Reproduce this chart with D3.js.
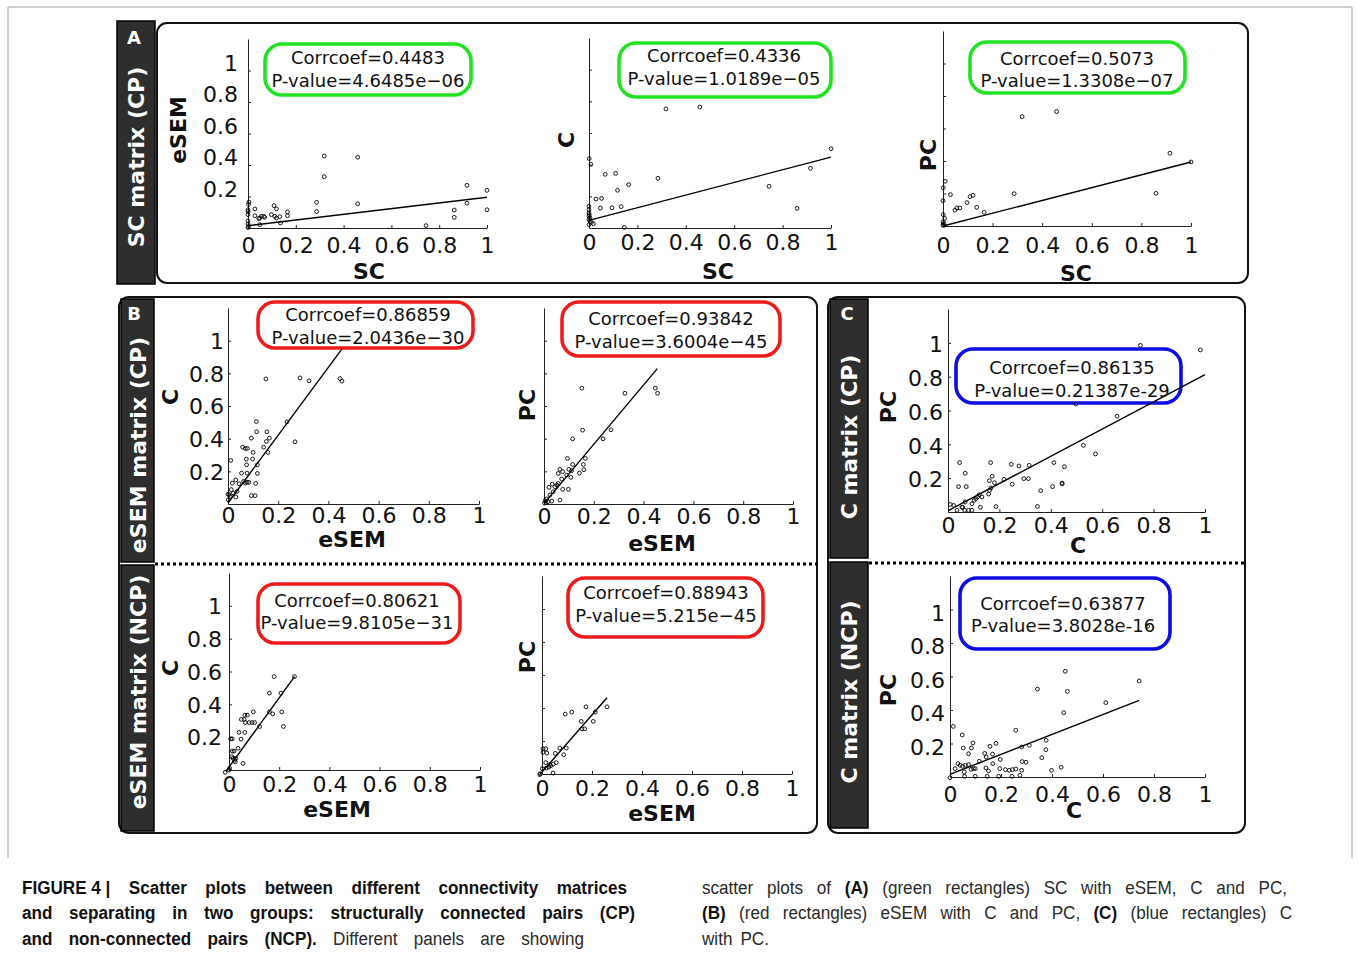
<!DOCTYPE html>
<html><head><meta charset="utf-8">
<script src="https://cdn.jsdelivr.net/npm/d3@7"></script>
<style>body{margin:0;background:#fff} svg{display:block}</style>
</head><body>
<svg id="fig" width="1358" height="953"></svg>
<script>
// ---------------- DATA ----------------
const axisTicks = [0, 0.2, 0.4, 0.6, 0.8, 1];
const tickLabels = ["0", "0.2", "0.4", "0.6", "0.8", "1"];
const yTicks = [0.2, 0.4, 0.6, 0.8, 1];

const xNames = ["SC", "SC", "SC", "eSEM", "eSEM", "eSEM", "eSEM", "C", "C"];
const yNames = ["eSEM", "C", "PC", "C", "PC", "C", "PC", "PC", "PC"];

const statsCorr = ["Corrcoef=0.4483", "Corrcoef=0.4336", "Corrcoef=0.5073", "Corrcoef=0.86859", "Corrcoef=0.93842",
  "Corrcoef=0.80621", "Corrcoef=0.88943", "Corrcoef=0.86135", "Corrcoef=0.63877"];
const statsP = ["P-value=4.6485e\u221206", "P-value=1.0189e\u221205", "P-value=1.3308e\u221207", "P-value=2.0436e\u221230",
  "P-value=3.6004e\u221245", "P-value=9.8105e\u221231", "P-value=5.215e\u221245", "P-value=0.21387e-29", "P-value=3.8028e-16"];

const panelTitles = ["SC matrix (CP)", "eSEM matrix (CP)", "eSEM matrix (NCP)", "C matrix (CP)", "C matrix (NCP)"];
const panelLetters = ["A", "B", "C"];

// A: SC vs eSEM / C / PC (CP)
const ptsA1 = [[0.319,0.457],[0.319,0.326],[0.459,0.449],[0.459,0.154],[0.287,0.163],[0.287,0.104],
  [0.916,0.271],[0.916,0.157],[1.0,0.239],[1.0,0.116],[0.863,0.114],[0.863,0.068],[0.745,0.015],
  [0.004,0.165],[0.002,0.150],[0,0.116],[0,0.105],[0,0.085],[0,0.045],[0,0.025],[0.002,0.01],[0,0.003],
  [0.029,0.121],[0.029,0.078],[0.049,0.063],[0.056,0.074],[0.066,0.074],[0.070,0.068],
  [0.109,0.142],[0.119,0.121],[0.098,0.085],[0.112,0.074],[0.119,0.063],[0.133,0.072],[0.136,0.032],
  [0.165,0.102],[0.165,0.078],[0.049,0.021],[0.045,0.06]];
const ptsA2 = [[0.318,0.752],[0.458,0.764],[1.0,0.501],[0.915,0.377],[0.744,0.263],[0.860,0.124],
  [0.001,0.438],[0.008,0.402],[0.067,0.339],[0.110,0.345],[0.285,0.314],[0.164,0.274],[0.118,0.238],
  [0.029,0.183],[0.052,0.187],[0.047,0.126],[0.095,0.128],[0.133,0.135],[0.146,0.004],[0.018,0.027],
  [0,0.137],[0,0.116],[0,0.095],[0.001,0.084],[0,0.074],[0.004,0.063],[0,0.053],[0.004,0.042],[0,0.021],[0.01,0.035]];
const ptsA3 = [[0.319,0.673],[0.458,0.704],[0.915,0.448],[1.0,0.394],[0.859,0.201],[0.287,0.199],
  [0.009,0.275],[0.001,0.236],[0,0.156],[0.030,0.193],[0.109,0.181],[0.121,0.189],[0.097,0.144],
  [0.136,0.115],[0.166,0.084],[0.048,0.097],[0.056,0.111],[0.068,0.111],[0.001,0.070],[0.007,0.047],
  [0,0.025],[0.003,0.015],[0,0.008],[0.002,0.003]];
// B: eSEM vs C / PC (CP, NCP)
const ptsB1 = [[0.151,0.766],[0.287,0.772],[0.323,0.754],[0.446,0.768],[0.454,0.752],
  [0.113,0.505],[0.235,0.503],[0.267,0.381],[0.114,0.442],[0.155,0.442],[0.165,0.403],[0.153,0.383],
  [0.142,0.348],[0.159,0.316],[0.093,0.403],[0.058,0.348],[0.069,0.340],[0.077,0.340],[0.011,0.267],
  [0.073,0.275],[0.098,0.275],[0.100,0.316],[0.074,0.240],[0.117,0.240],[0.117,0.187],[0.054,0.189],
  [0.076,0.189],[0.110,0.126],[0.062,0.138],[0.076,0.134],[0.083,0.132],[0.069,0.128],[0.031,0.147],
  [0.017,0.128],[0.044,0.124],[0.093,0.051],[0.108,0.051],[0.031,0.043],[0.036,0.077],[0.020,0.067],
  [0.004,0.057],[0.009,0.047],[0.001,0.026],[0.013,0.088],[0.0,0.06]];
const ptsB2 = [[0.152,0.709],[0.325,0.678],[0.447,0.709],[0.456,0.678],[0.155,0.452],[0.269,0.454],
  [0.115,0.399],[0.237,0.399],[0.094,0.279],[0.166,0.279],[0.115,0.242],[0.158,0.242],[0.160,0.210],
  [0.100,0.212],[0.111,0.204],[0.142,0.189],[0.108,0.163],[0.064,0.212],[0.075,0.198],[0.057,0.187],
  [0.091,0.177],[0.071,0.153],[0.098,0.090],[0.075,0.090],[0.020,0.102],[0.033,0.122],[0.064,0.024],
  [0.044,0.106],[0.051,0.116],[0.057,0.126],[0.024,0.055],[0.037,0.075],[0.011,0.031],[0.004,0.020],
  [0.017,0.014],[0.031,0.018],[0.008,0.010],[0.002,0.005]];
const ptsB3 = [[0.261,0.569],[0.180,0.569],[0.161,0.468],[0.207,0.468],[0.210,0.354],[0.174,0.342],[0.161,0.354],
  [0.217,0.265],[0.122,0.265],[0.097,0.354],[0.063,0.334],[0.073,0.334],[0.049,0.308],[0.060,0.308],
  [0.065,0.289],[0.080,0.289],[0.092,0.289],[0.102,0.289],[0.040,0.229],[0.063,0.229],[0.007,0.190],
  [0.013,0.190],[0.048,0.188],[0.036,0.132],[0.013,0.115],[0.020,0.115],[0.011,0.081],[0.016,0.071],
  [0.027,0.071],[0.025,0.05],[0.023,0.06],[0.056,0.040],[0.003,0.01],[0,0],[-0.015,-0.014]];
const ptsB4 = [[0.26,0.407],[0.176,0.407],[0.119,0.375],[0.093,0.363],[0.213,0.375],[0.205,0.319],[0.157,0.319],
  [0.171,0.274],[0.16,0.274],[0.097,0.157],[0.071,0.157],[0.087,0.117],[0.053,0.125],[0.004,0.153],
  [0.015,0.153],[0.019,0.127],[0.004,0.131],[0.015,0.069],[0.057,0.069],[0.031,0.058],[0.027,0.042],
  [0.017,0.036],[0.001,0.032],[0.044,0.006],[-0.007,0.002],[-0.009,-0.004],[0.035,0.05],[0.045,0.06]];
// C: C vs PC (CP, NCP)
const ptsC1 = [[0.749,0.985],[0.982,0.958],[0.497,0.638],[0.658,0.566],[0.527,0.394],[0.574,0.343],
  [0.045,0.292],[0.166,0.292],[0.067,0.229],[0.041,0.150],[0.071,0.150],[0.172,0.211],[0.161,0.185],
  [0.181,0.173],[0.218,0.193],[0.246,0.282],[0.276,0.272],[0.316,0.276],[0.295,0.197],[0.313,0.197],
  [0.250,0.164],[0.412,0.292],[0.453,0.268],[0.407,0.150],[0.444,0.171],[0.444,0.166],[0.361,0.126],
  [0.348,0.033],[0.187,0.032],[0.167,0.142],[0.162,0.128],[0.158,0.106],[0.122,0.102],[0.132,0.089],
  [0.115,0.089],[0.109,0.079],[0.102,0.069],[0.093,0.049],[0.067,0.059],[0.057,0.028],[0.065,0.010],
  [0.080,0.010],[0.093,0.010],[0.126,0.028],[0.009,0.045],[0.022,0.039],[0.035,0.010],[0.054,0.028]];
const ptsC2 = [[0.775,0.900],[0.452,0.631],[0.343,0.525],[0.460,0.511],[0.742,0.573],[0.611,0.444],[0.446,0.384],
  [0.258,0.279],[0.377,0.219],[0.376,0.163],[0.360,0.115],[0.311,0.189],[0.281,0.179],[0.283,0.092],
  [0.298,0.088],[0.281,0.040],[0.274,0.010],[0.398,0.040],[0.436,0.058],[0.180,0.201],[0.157,0.183],
  [0.167,0.137],[0.197,0.105],[0.168,0.080],[0.136,0.141],[0.142,0.119],[0.141,0.054],[0.151,0.036],
  [0.146,0.004],[0.191,0.004],[0.195,0.050],[0.217,0.044],[0.232,0.040],[0.245,0.044],[0.258,0.048],
  [0.243,0.004],[0.013,0.302],[0.048,0.251],[0.052,0.173],[0.090,0.203],[0.084,0.173],[0.073,0.139],
  [0.115,0.094],[0.099,0.050],[0.031,0.080],[0.040,0.070],[0.049,0.064],[0.060,0.070],[0.073,0.074],
  [0.083,0.046],[0.092,0.050],[0.056,0.030],[0.057,0.004],[0.099,0.004],[0,-0.004],[0.02,0.05]];

// regression lines: [xStart, yStart, xEnd, yEnd]
const fitA1 = [0, 0.015, 1, 0.195];
const fitA2 = [0, 0.048, 1, 0.448];
const fitA3 = [0, 0, 1, 0.394];
const fitB1 = [0, 0.006, 0.455, 0.951];
const fitB2 = [0.004, 0.010, 0.455, 0.829];
const fitB3 = [-0.013, -0.01, 0.261, 0.569];
const fitB4 = [-0.009, -0.004, 0.26, 0.462];
const fitC1 = [0.003, 0.010, 1.0, 0.812];
const fitC2 = [0, 0.016, 0.742, 0.458];

const allPts = [ptsA1, ptsA2, ptsA3, ptsB1, ptsB2, ptsB3, ptsB4, ptsC1, ptsC2];
const allFits = [fitA1, fitA2, fitA3, fitB1, fitB2, fitB3, fitB4, fitC1, fitC2];

const captionLeft = [
  [{t:"FIGURE\u00a04\u00a0|", b:1}, {t:"Scatter plots between different connectivity matrices", b:1}],
  [{t:"and separating in two groups: structurally connected pairs (CP)", b:1}],
  [{t:"and non-connected pairs (NCP).", b:1}, {t:"Different panels are showing", b:0}]
];
const captionRight = [
  [{t:"scatter plots of", b:0}, {t:"(A)", b:1}, {t:"(green rectangles) SC with eSEM, C and PC,", b:0}],
  [{t:"(B)", b:1}, {t:"(red rectangles) eSEM with C and PC,", b:0}, {t:"(C)", b:1}, {t:"(blue rectangles) C", b:0}],
  [{t:"with PC.", b:0}]
];

// ---------------- LAYOUT ----------------
const GREEN = "#22e322", RED = "#ee1b1b", BLUE = "#0c0ce4";
const layout = [
  {x0:248,x1:487,yb:228,yt:39, yl:true, ylx:-10, yldy:-8, xldy:17, xt:[369,271], ytl:[178,130], box:[265,44,206,51], tc:[368,57,80], col:GREEN},
  {x0:589,x1:831,yb:228,yt:38, yl:false, xldy:14, xt:[718,271], ytl:[566,140], box:[619,43,212,54], tc:[724,55,78], col:GREEN},
  {x0:943,x1:1191,yb:226,yt:31, yl:false, xldy:19, xt:[1076,273], ytl:[928,155], box:[970,42,215,51], tc:[1077,58,80], col:GREEN},
  {x0:228,x1:479,yb:504,yt:308, yl:true, ylx:-4, yldy:0, xldy:11, xt:[352,539], ytl:[170,397], box:[258,302,215,46], tc:[368,314,337], col:RED},
  {x0:544,x1:793,yb:504,yt:308, yl:false, xldy:12, xt:[662,543], ytl:[527,405], box:[562,302,218,54], tc:[671,318,341], col:RED},
  {x0:229,x1:480,yb:770,yt:573, yl:true, ylx:-7, yldy:0, xldy:14, xt:[337,809], ytl:[170,668], box:[258,584,202,59], tc:[357,600,622], col:RED},
  {x0:542,x1:792,yb:774,yt:576, yl:false, xldy:14, xt:[662,813], ytl:[527,657], box:[568,578,195,59], tc:[666,592,615], col:RED},
  {x0:948,x1:1205,yb:512,yt:309, yl:true, ylx:-5, yldy:1, xldy:13, xt:[1078,545], ytl:[888,407], box:[956,349,225,54], tc:[1072,367,390], col:BLUE},
  {x0:950,x1:1205,yb:777,yt:576, yl:true, ylx:-5, yldy:3, xldy:17, xt:[1074,810], ytl:[888,690], box:[960,578,210,71], tc:[1063,603,625], col:BLUE}
];

const FONT = "'DejaVu Sans', sans-serif";
const svg = d3.select("#fig");

// page frame
svg.append("path").attr("d", "M8,858V7H1352V858").attr("fill", "none").attr("stroke", "#a0a0a0").attr("stroke-width", 1);

// panel boxes
const panelBoxes = [[157,23,1091,260],[119,297,698,536],[828,297,417,536]];
svg.selectAll("rect.panel").data(panelBoxes).join("rect").attr("class","panel")
  .attr("x", d=>d[0]).attr("y", d=>d[1]).attr("width", d=>d[2]).attr("height", d=>d[3])
  .attr("rx", 10).attr("fill", "#fff").attr("stroke", "#111").attr("stroke-width", 2);

// dark label bars
const bars = [
  {r:[117,21,38,263], tc:[136,157], ti:0, li:0, lp:[134,37]},
  {r:[121,299,33,263], tc:[138,445], ti:1, li:1, lp:[134,313]},
  {r:[121,565,33,266], tc:[138,692], ti:2},
  {r:[830,299,38,259], tc:[849,437], ti:3, li:2, lp:[847,313]},
  {r:[830,562,38,266], tc:[849,692], ti:4}
];
bars.forEach(b => {
  svg.append("rect").attr("x", b.r[0]).attr("y", b.r[1]).attr("width", b.r[2]).attr("height", b.r[3])
    .attr("fill", "#2e2e2e").attr("stroke", "#000").attr("stroke-width", 1.5);
  svg.append("text").attr("transform", `translate(${b.tc[0]},${b.tc[1]}) rotate(-90)`)
    .attr("text-anchor", "middle").attr("dominant-baseline", "central")
    .attr("font-family", FONT).attr("font-weight", "bold").attr("font-size", 22).attr("fill", "#fff")
    .text(panelTitles[b.ti]);
  if (b.li !== undefined) {
    svg.append("text").attr("x", b.lp[0]).attr("y", b.lp[1]).attr("text-anchor", "middle").attr("dominant-baseline", "central")
      .attr("font-family", FONT).attr("font-weight", "bold").attr("font-size", 18).attr("fill", "#fff")
      .text(panelLetters[b.li]);
  }
});

// dotted separators
[[155,817,564],[869,1244,563]].forEach(s => {
  svg.append("line").attr("x1", s[0]).attr("x2", s[1]).attr("y1", s[2]).attr("y2", s[2])
    .attr("stroke", "#000").attr("stroke-width", 3).attr("stroke-dasharray", "3,3");
});

// subplots
layout.forEach((L, i) => {
  const g = svg.append("g");
  const x = d3.scaleLinear().domain([0, 1]).range([L.x0, L.x1]);
  const y = d3.scaleLinear().domain([0, 1.2]).range([L.yb, L.yt]);

  // annotation box
  g.append("rect").attr("x", L.box[0]).attr("y", L.box[1]).attr("width", L.box[2]).attr("height", L.box[3])
    .attr("rx", 17).attr("fill", "#fff").attr("stroke", L.col).attr("stroke-width", 3.6);

  // axes
  const xa = g.append("g").attr("transform", `translate(0,${L.yb})`)
    .call(d3.axisBottom(x).tickValues(axisTicks).tickSizeInner(-3).tickSizeOuter(0)
      .tickFormat((d, k) => tickLabels[k]));
  xa.attr("font-family", FONT).attr("font-size", 22).attr("color", "#222");
  xa.selectAll("text").attr("y", L.xldy).attr("dy", "0.35em").attr("fill", "#111");

  const ya = g.append("g").attr("transform", `translate(${L.x0},0)`)
    .call(d3.axisLeft(y).tickValues(yTicks).tickSizeInner(-3).tickSizeOuter(0)
      .tickFormat(d => L.yl ? tickLabels[axisTicks.indexOf(d)] : ""));
  ya.attr("font-family", FONT).attr("font-size", 22).attr("color", "#222");
  ya.selectAll("text").attr("x", L.ylx || -6).attr("dy", "0.35em").attr("y", L.yldy || 0).attr("fill", "#111");

  // axis titles
  g.append("text").attr("x", L.xt[0]).attr("y", L.xt[1]).attr("text-anchor", "middle").attr("dominant-baseline", "central")
    .attr("font-family", FONT).attr("font-weight", "bold").attr("font-size", 22).attr("fill", "#111").text(xNames[i]);
  g.append("text").attr("transform", `translate(${L.ytl[0]},${L.ytl[1]}) rotate(-90)`)
    .attr("text-anchor", "middle").attr("dominant-baseline", "central")
    .attr("font-family", FONT).attr("font-weight", "bold").attr("font-size", 22).attr("fill", "#111").text(yNames[i]);

  // regression line
  const f = allFits[i];
  g.append("path").attr("d", d3.line().x(d => x(d[0])).y(d => y(d[1]))([[f[0], f[1]], [f[2], f[3]]]))
    .attr("stroke", "#000").attr("stroke-width", 1.4).attr("fill", "none");

  // points
  g.selectAll("circle").data(allPts[i]).join("circle")
    .attr("cx", d => x(d[0])).attr("cy", d => y(d[1])).attr("r", 1.9)
    .attr("fill", "none").attr("stroke", "#000").attr("stroke-width", 0.9);

  // stats text
  [statsCorr[i], statsP[i]].forEach((t, k) => {
    g.append("text").attr("x", L.tc[0]).attr("y", L.tc[1 + k]).attr("text-anchor", "middle").attr("dominant-baseline", "central")
      .attr("font-family", FONT).attr("font-size", 18).attr("fill", "#111").text(t);
  });
});

// caption
const capWidthsL = [605, 613, 562];
const capWidthsR = [585, 590, null];
const capY = [894, 919, 945];
function captionLine(segs, x0, yy, target) {
  const words = [];
  segs.forEach(s => s.t.split(" ").forEach(w => { if (w) words.push({t: w, b: s.b}); }));
  const nodes = words.map(w => {
    const el = svg.append("text").attr("x", x0).attr("y", yy)
      .attr("font-family", "'Liberation Sans', Arial, sans-serif").attr("font-size", 18)
      .attr("font-weight", w.b ? "bold" : "normal").attr("fill", w.b ? "#111" : "#2a2a2a").text(w.t);
    const nat = el.node().getComputedTextLength();
    const wd = nat * 0.95;
    el.attr("textLength", wd).attr("lengthAdjust", "spacingAndGlyphs");
    return {el, wd};
  });
  const total = d3.sum(nodes, n => n.wd);
  const gap = target && nodes.length > 1 ? Math.max(4, (target - total) / (nodes.length - 1)) : 8;
  let cx = x0;
  nodes.forEach(n => { n.el.attr("x", cx); cx += n.wd + gap; });
}
captionLeft.forEach((ln, k) => captionLine(ln, 22, capY[k], capWidthsL[k]));
captionRight.forEach((ln, k) => captionLine(ln, 702, capY[k], capWidthsR[k]));
</script>
</body></html>
